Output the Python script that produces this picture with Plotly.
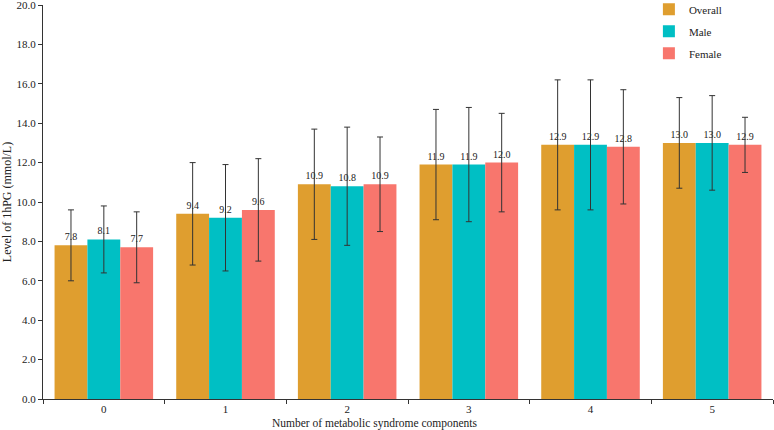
import plotly.graph_objects as go

categories = ["0", "1", "2", "3", "4", "5"]
series_names = ["Overall", "Male", "Female"]
overall = [7.8, 9.4, 10.9, 11.9, 12.9, 13.0]
male = [8.1, 9.2, 10.8, 11.9, 12.9, 13.0]
female = [7.7, 9.6, 10.9, 12.0, 12.8, 12.9]
overall_sd = [1.8, 2.6, 2.8, 2.8, 3.3, 2.3]
male_sd = [1.7, 2.7, 3.0, 2.9, 3.3, 2.4]
female_sd = [1.8, 2.6, 2.4, 2.5, 2.9, 1.4]
colors = ["#DF9E2F", "#00BFC4", "#F8766D"]
y_ticks = [0, 2, 4, 6, 8, 10, 12, 14, 16, 18, 20]
x_title = "Number of metabolic syndrome components"
y_title = "Level of 1hPG (mmol/L)"

font_family = "Liberation Serif"

fig = go.Figure()
for i, (name, vals, sds, col) in enumerate(zip(series_names, [overall, male, female],
                                [overall_sd, male_sd, female_sd], colors)):
    fig.add_trace(go.Bar(
        name=name, x=categories, y=vals,
        legendgroup=f"g{i}",
        marker=dict(color=col, line=dict(width=0)),
        error_y=dict(type="data", array=sds, visible=True,
                     color="#333333", thickness=1, width=3),
        text=[f"{v:.1f}" for v in vals],
        textposition="outside",
        textfont=dict(size=10, color="#222222", family=font_family),
        cliponaxis=False,
    ))

fig.update_layout(
    width=774, height=430,
    margin=dict(l=43, r=1, t=5, b=31, autoexpand=False),
    paper_bgcolor="white", plot_bgcolor="white",
    barmode="group", bargap=0.19, bargroupgap=0,
    font=dict(family=font_family, size=11, color="#222222"),
    showlegend=True,
    legend=dict(x=0.830, y=1.026, xanchor="left", yanchor="top",
                bgcolor="rgba(0,0,0,0)", font=dict(size=11),
                itemwidth=30, tracegroupgap=3),
    uniformtext=dict(minsize=10, mode="show"),
    annotations=[dict(text=x_title, xref="paper", yref="paper",
                      x=0.455, y=-0.061, xanchor="center", yanchor="middle",
                      showarrow=False, font=dict(size=11.5))],
)
fig.update_xaxes(
    showline=True, linecolor="#333333", linewidth=1,
    ticks="outside", tickson="boundaries", ticklen=4, tickcolor="#333333",
    showgrid=False, tickfont=dict(size=11),
    automargin=False,
)
fig.update_yaxes(
    range=[0, 20], tickvals=y_ticks,
    ticktext=[f"{v:.1f}" for v in y_ticks],
    ticklabeloverflow="allow",
    showline=True, linecolor="#333333", linewidth=1,
    ticks="outside", ticklen=4, tickcolor="#333333",
    showgrid=False, zeroline=False, tickfont=dict(size=11),
    title=dict(text=y_title, standoff=4, font=dict(size=12)),
    automargin=False,
)

fig.write_html("out.html", config={"displayModeBar": False},
               post_script="document.body.style.margin='0';document.body.style.padding='0';")
